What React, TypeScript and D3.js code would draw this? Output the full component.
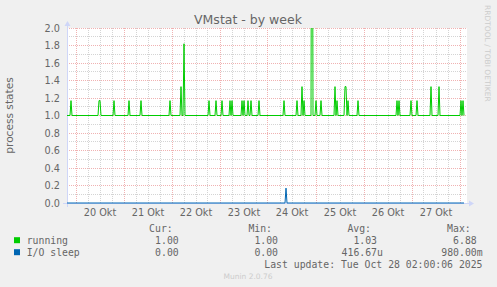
import React from "react";
import * as d3 from "d3";

// ---- data ----
const seriesNames = ["running", "I/O sleep"];
const seriesColors = ["#00cc00", "#0066b3"];
const runningBaseline = 1.0;
const ioBaseline = 0.0;
const runningSpikeTimes = [
  "2025-10-19T21:30", "2025-10-20T11:30", "2025-10-20T12:00", "2025-10-20T19:00",
  "2025-10-21T02:30", "2025-10-21T08:30", "2025-10-21T23:00", "2025-10-22T04:30",
  "2025-10-22T06:00", "2025-10-22T18:30", "2025-10-22T22:00", "2025-10-23T01:00",
  "2025-10-23T05:00", "2025-10-23T06:00", "2025-10-23T11:00", "2025-10-23T12:00",
  "2025-10-23T14:00", "2025-10-23T15:30", "2025-10-23T19:30", "2025-10-24T08:00",
  "2025-10-24T14:30", "2025-10-24T17:00", "2025-10-24T18:00", "2025-10-24T22:00",
  "2025-10-25T00:00", "2025-10-25T02:30", "2025-10-25T09:30", "2025-10-25T10:30",
  "2025-10-25T14:30", "2025-10-25T15:00", "2025-10-25T16:00", "2025-10-25T21:00",
  "2025-10-26T16:30", "2025-10-26T17:30", "2025-10-26T23:30", "2025-10-27T02:30",
  "2025-10-27T09:30", "2025-10-27T13:30", "2025-10-28T00:30", "2025-10-28T01:30",
];
const runningSpikeValues = [
  1.17, 1.17, 1.17, 1.17,
  1.17, 1.17, 1.17, 1.33,
  1.82, 1.17, 1.17, 1.17,
  1.17, 1.17, 1.17, 1.17,
  1.17, 1.17, 1.17, 1.17,
  1.17, 1.33, 1.17, 6.88,
  1.17, 1.17, 1.33, 1.17,
  1.33, 1.33, 1.17, 1.17,
  1.17, 1.17, 1.17, 1.17,
  1.33, 1.33, 1.17, 1.17,
];
const ioSpikeTimes = ["2025-10-24T09:00"];
const ioSpikeValues = [0.17];

const windowStart = "2025-10-19T19:30";
const windowEnd = "2025-10-28T03:30";
const lastSample = "2025-10-28T02:00";
const dayTickLabels = ["20 Okt", "21 Okt", "22 Okt", "23 Okt", "24 Okt", "25 Okt", "26 Okt", "27 Okt"];
const yTickValues = [0, 0.2, 0.4, 0.6, 0.8, 1.0, 1.2, 1.4, 1.6, 1.8, 2.0];

const legendHeaders = ["Cur:", "Min:", "Avg:", "Max:"];
const legendCur = ["1.00", "0.00"];
const legendMin = ["1.00", "0.00"];
const legendAvg = ["1.03", "416.67u"];
const legendMax = ["6.88", "980.00m"];
const lastUpdateText = "Last update: Tue Oct 28 02:00:06 2025";

const parse = (s: string) => new Date(s + ":00Z");

function buildSeries(times: string[], values: number[], base: number) {
  const map = new Map<number, number>();
  times.forEach((t, i) => map.set(parse(t).getTime(), values[i]));
  const pts: [Date, number][] = [];
  const start = parse(windowStart).getTime();
  const end = parse(lastSample).getTime();
  for (let t = start; t <= end; t += 30 * 60 * 1000) {
    pts.push([new Date(t), map.has(t) ? (map.get(t) as number) : base]);
  }
  return pts;
}

export default function App() {
  const W = 497, H = 287;
  const x0 = 67, x1 = 467, yBot = 203, yTop = 28;
  const x = d3.scaleUtc().domain([parse(windowStart), parse(windowEnd)]).range([x0, x1]);
  const y = d3.scaleLinear().domain([0, 2]).range([yBot, yTop]);

  const running = buildSeries(runningSpikeTimes, runningSpikeValues, runningBaseline);
  const io = buildSeries(ioSpikeTimes, ioSpikeValues, ioBaseline);
  const line = d3.line<[Date, number]>().x((d) => x(d[0])).y((d) => y(d[1]));

  const px = (v: number) => Math.floor(v) + 0.5;

  const minorH = d3.range(0, 21).map((i) => i / 10);
  const sixHours = d3.utcHour.every(6)!.range(parse(windowStart), parse(windowEnd));
  const days = d3.utcDay.range(parse(windowStart), parse(windowEnd));

  const gridGray = "#d4d4d4";
  const gridRed = "#f0b2b2";
  const font = "DejaVu Sans, sans-serif";
  const mono = "DejaVu Sans Mono, monospace";
  const fontColor = "#666666";
  const axisColor = "#cfd6f8";

  const colEnds = [178.7, 278, 377, 476.7];
  const cols = [legendCur, legendMin, legendAvg, legendMax];
  const rowBase = [243.5, 255.5];

  const splitVal = (s: string) => {
    const m = s.match(/^(.*?)([a-zA-Z]?)$/)!;
    return [m[1], m[2]];
  };

  return (
    <svg width={W} height={H} style={{ position: "absolute", left: 0, top: 0 }}>
      <rect width={W} height={H} fill="#f0f0f0" />
      <rect x={x0} y={yTop} width={x1 - x0} height={yBot - yTop} fill="#ffffff" />

      {/* grid */}
      <g shapeRendering="crispEdges" strokeDasharray="1,1">
        {minorH.filter((v, i) => i % 2 === 1).map((v) => (
          <line key={"hm" + v} x1={x0} x2={x1} y1={px(y(v))} y2={px(y(v))} stroke={gridGray} />
        ))}
        {sixHours.filter((d) => d.getUTCHours() !== 0).map((d) => (
          <line key={"vm" + d.getTime()} x1={px(x(d))} x2={px(x(d))} y1={yTop} y2={yBot} stroke={gridGray} />
        ))}
        {yTickValues.map((v) => (
          <line key={"hM" + v} x1={x0} x2={x1} y1={px(y(v))} y2={px(y(v))} stroke={gridRed} />
        ))}
        {days.map((d) => (
          <line key={"vM" + d.getTime()} x1={px(x(d))} x2={px(x(d))} y1={yTop} y2={yBot} stroke={gridRed} />
        ))}
      </g>

      {/* axes */}
      <line x1={x0 - 4} x2={x1 + 4} y1={yBot + 0.5} y2={yBot + 0.5} stroke={axisColor} shapeRendering="crispEdges" />
      <line x1={x0 + 0.5} x2={x0 + 0.5} y1={yBot + 4} y2={yTop - 4} stroke={axisColor} shapeRendering="crispEdges" />
      <polygon points={`${x1 + 2},${yBot - 3 + 0.5} ${x1 + 2},${yBot + 3 + 0.5} ${x1 + 7},${yBot + 0.5}`} fill={axisColor} />
      <polygon points={`${x0 - 3 + 0.5},${yTop - 2} ${x0 + 3 + 0.5},${yTop - 2} ${x0 + 0.5},${yTop - 7}`} fill={axisColor} />

      {/* data */}
      <defs>
        <clipPath id="plotClip">
          <rect x={x0} y={yTop} width={x1 - x0 + 1} height={yBot - yTop + 2} />
        </clipPath>
      </defs>
      <g clipPath="url(#plotClip)" fill="none" strokeWidth={1}>
        <path d={line(io) || ""} stroke={seriesColors[1]} />
        <path d={line(running) || ""} stroke={seriesColors[0]} />
      </g>

      {/* y ticks */}
      {yTickValues.map((v) => (
        <text key={"yt" + v} x={60} y={y(v) + 3.5} textAnchor="end" fontFamily={font} fontSize={9.7} fill={fontColor}>
          {v.toFixed(1)}
        </text>
      ))}
      {/* x labels */}
      {days.slice(0, dayTickLabels.length).map((d, i) => (
        <text key={"xt" + i} x={x(d3.utcHour.offset(d, 12))} y={216} textAnchor="middle" fontFamily={font} fontSize={9.7} fill={fontColor}>
          {dayTickLabels[i]}
        </text>
      ))}

      {/* title & labels */}
      <text x={248} y={24} textAnchor="middle" fontFamily={font} fontSize={12.5} fill={fontColor}>VMstat - by week</text>
      <text transform={`translate(13,${(yTop + yBot) / 2}) rotate(-90)`} textAnchor="middle" fontFamily={font} fontSize={10.6} fill={fontColor}>process states</text>
      <text transform="translate(485,5) rotate(90)" textAnchor="start" fontFamily={font} fontSize={7.5} fill="#cccccc">RRDTOOL / TOBI OETIKER</text>

      {/* legend */}
      {legendHeaders.map((h, i) => (
        <text key={"lh" + i} x={colEnds[i] - 6} y={231.8} textAnchor="end" fontFamily={mono} fontSize={9.8} fill={fontColor}>{h}</text>
      ))}
      {seriesNames.map((n, r) => (
        <g key={"lr" + r}>
          <rect x={14} y={rowBase[r] - 6.3} width={6} height={6} fill={seriesColors[r]} />
          <text x={26.7} y={rowBase[r]} fontFamily={mono} fontSize={9.8} fill={fontColor}>{n}</text>
          {cols.map((c, ci) => {
            const [num, suf] = splitVal(c[r]);
            return (
              <g key={"lv" + ci}>
                <text x={colEnds[ci]} y={rowBase[r]} textAnchor="end" fontFamily={mono} fontSize={9.8} fill={fontColor}>{num}</text>
                {suf && <text x={colEnds[ci]} y={rowBase[r]} fontFamily={mono} fontSize={9.8} fill={fontColor}>{suf}</text>}
              </g>
            );
          })}
        </g>
      ))}
      <text x={482.5} y={267.5} textAnchor="end" fontFamily={mono} fontSize={9.8} fill={fontColor}>{lastUpdateText}</text>
      <text x={248} y={279} textAnchor="middle" fontFamily={font} fontSize={7.5} fill="#cccccc">Munin 2.0.76</text>
    </svg>
  );
}
